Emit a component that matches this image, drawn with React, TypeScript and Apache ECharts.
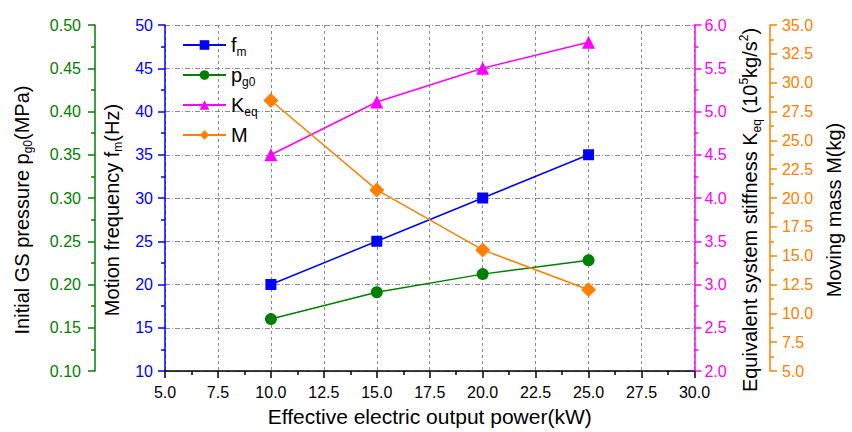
import React, { useEffect, useRef } from "react";
import * as echarts from "echarts";

const power = [10, 15, 20, 25];
const fmValues = [20, 25, 30, 35];
const pg0Values = [0.16, 0.191, 0.212, 0.228];
const keqValues = [4.5, 5.11, 5.5, 5.8];
const massValues = [28.45, 20.7, 15.5, 12.05];

const BLUE = "#0000ff";
const GREEN = "#008000";
const MAGENTA = "#ff00ff";
const ORANGE = "#ff8000";
const FONT = "Liberation Sans, Arial, sans-serif";

const pairs = (ys: number[]) => power.map((x, i) => [x, ys[i]]);

const nameRich = {
  n: { fontSize: 20, fontFamily: FONT, color: "#000" },
  s: { fontSize: 12, fontFamily: FONT, color: "#000", verticalAlign: "bottom", padding: [13, 0, 0, 0] },
  u: { fontSize: 12, fontFamily: FONT, color: "#000", verticalAlign: "top", padding: [0, 0, 11, 0] },
};

const legendNames: Record<string, string> = {
  fm: "{n|f}{s|m}",
  pg0: "{n|p}{s|g0}",
  Keq: "{n|K}{s|eq}",
  M: "{n|M}",
};

export default function App() {
  const ref = useRef<HTMLDivElement>(null);
  useEffect(() => {
    if (!ref.current) return;
    const chart = echarts.init(ref.current, undefined, { renderer: "svg" });
    const axisCommon = (color: string) => ({
      type: "value",
      axisLine: { show: true, lineStyle: { color, width: 1.5 } },
      axisTick: { show: true, inside: false, length: 7, lineStyle: { color, width: 1.5 } },
      minorTick: { show: true, splitNumber: 2, length: 4, lineStyle: { color, width: 1.5 } },
      axisLabel: { color, fontSize: 16, fontFamily: FONT },
      nameLocation: "middle",
      nameTextStyle: { rich: nameRich, padding: [0, 24, 0, 0] },
    });
    chart.setOption({
      animation: false,
      backgroundColor: "#ffffff",
      grid: { left: 165, right: 148.5, top: 25, bottom: 56, containLabel: false },
      legend: {
        show: true,
        orient: "vertical",
        left: 182,
        top: 35,
        padding: 0,
        itemWidth: 43,
        itemHeight: 12,
        itemGap: 7,
        data: ["fm", "pg0", "Keq", "M"],
        formatter: (n: string) => legendNames[n] || n,
        textStyle: {
          rich: {
            n: { fontSize: 20, fontFamily: FONT, color: "#000" },
            s: { fontSize: 12, fontFamily: FONT, color: "#000", verticalAlign: "bottom", padding: [14, 0, 0, 0] },
          },
        },
      },
      xAxis: {
        type: "value",
        min: 5,
        max: 30,
        interval: 2.5,
        name: "Effective electric output power(kW)",
        nameLocation: "middle",
        nameGap: 35,
        nameTextStyle: { fontSize: 21, fontFamily: FONT, color: "#000" },
        axisLine: { show: true, lineStyle: { color: "#000", width: 1.5 } },
        axisTick: { show: true, length: 7, lineStyle: { color: "#000", width: 1.5 } },
        minorTick: { show: true, splitNumber: 2, length: 4, lineStyle: { color: "#000", width: 1.5 } },
        axisLabel: { color: "#000", fontSize: 16, fontFamily: FONT, margin: 13, formatter: (v: number) => v.toFixed(1) },
        splitLine: { show: true, lineStyle: { color: "#8c8c8c", type: [3, 3], width: 1 } },
      },
      yAxis: [
        {
          ...axisCommon(BLUE),
          position: "left",
          offset: 0,
          min: 10,
          max: 50,
          interval: 5,
          name: "{n|Motion frequency f}{s|m}{n|(Hz)}",
          nameGap: 37,
          axisLabel: { color: BLUE, fontSize: 16, fontFamily: FONT, margin: 12 },
          splitLine: { show: true, lineStyle: { color: "#8c8c8c", type: [5, 2, 1, 2], width: 1 } },
        },
        {
          ...axisCommon(GREEN),
          position: "left",
          offset: 70,
          min: 0.1,
          max: 0.5,
          interval: 0.05,
          name: "{n|Initial GS pressure p}{s|g0}{n|(MPa)}",
          nameGap: 61,
          axisLabel: { color: GREEN, fontSize: 16, fontFamily: FONT, margin: 14, formatter: (v: number) => v.toFixed(2) },
          splitLine: { show: false },
        },
        {
          ...axisCommon(MAGENTA),
          position: "right",
          offset: 0,
          min: 2,
          max: 6,
          interval: 0.5,
          name: "{n|Equivalent system stiffness K}{s|eq}{n| (10}{u|5}{n|kg/s}{u|2}{n|)}",
          nameGap: 42,
          axisLabel: { color: MAGENTA, fontSize: 16, fontFamily: FONT, margin: 10, formatter: (v: number) => v.toFixed(1) },
          splitLine: { show: false },
        },
        {
          ...axisCommon(ORANGE),
          position: "right",
          offset: 75.5,
          min: 5,
          max: 35,
          interval: 2.5,
          name: "{n|Moving mass M(kg)}",
          nameGap: 51,
          axisLabel: { color: ORANGE, fontSize: 16, fontFamily: FONT, margin: 12, formatter: (v: number) => v.toFixed(1) },
          splitLine: { show: false },
        },
      ],
      series: [
        { name: "fm", type: "line", yAxisIndex: 0, data: pairs(fmValues), symbol: "rect", symbolSize: 11, itemStyle: { color: BLUE }, lineStyle: { color: BLUE, width: 1.5 } },
        { name: "pg0", type: "line", yAxisIndex: 1, data: pairs(pg0Values), symbol: "circle", symbolSize: 12, itemStyle: { color: GREEN }, lineStyle: { color: GREEN, width: 1.5 } },
        { name: "Keq", type: "line", yAxisIndex: 2, data: pairs(keqValues), symbol: "triangle", symbolSize: 13, itemStyle: { color: MAGENTA }, lineStyle: { color: MAGENTA, width: 1.5 } },
        { name: "M", type: "line", yAxisIndex: 3, data: pairs(massValues), symbol: "diamond", symbolSize: 15, itemStyle: { color: ORANGE }, lineStyle: { color: ORANGE, width: 1.5 } },
      ],
    });
    return () => chart.dispose();
  }, []);
  return <div ref={ref} style={{ position: "fixed", left: 0, top: 0, width: 852, height: 432 }} />;
}
